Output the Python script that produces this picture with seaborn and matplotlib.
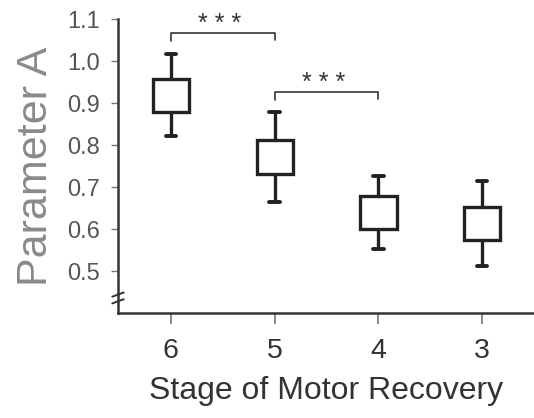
import pandas as pd
import matplotlib
matplotlib.use("Agg")
import matplotlib.pyplot as plt
import seaborn as sns

# values
stages = ["6", "5", "4", "3"]
whisker_low = [0.821, 0.664, 0.552, 0.512]
box_low = [0.879, 0.731, 0.600, 0.574]
box_high = [0.957, 0.812, 0.679, 0.652]
whisker_high = [1.017, 0.879, 0.726, 0.714]

# significance brackets: (left stage, right stage, height)
bracket_pairs = [("6", "5"), ("5", "4")]
bracket_heights = [1.067, 0.926]
bracket_labels = ["* * *", "* * *"]

# five points per stage -> quartiles land exactly on box edges
rows = []
for i, s in enumerate(stages):
    for v in [whisker_low[i], box_low[i], box_low[i], box_high[i], whisker_high[i]]:
        rows.append({"stage": s, "value": v})
data = pd.DataFrame(rows)

sns.set_style("ticks")
plt.rcParams["font.family"] = ["Liberation Sans", "DejaVu Sans"]

fig = plt.figure(figsize=(5.34, 4.18), dpi=100)
ax = fig.add_axes([0.221, 0.251, 0.779, 0.7035])

line_col = "#222222"
sns.boxplot(data=data, x="stage", y="value", order=stages, whis=(0, 100),
            width=0.35, color="white", linecolor=line_col, linewidth=2.4,
            showfliers=False, capwidths=0.1,
            medianprops={"visible": False},
            capprops={"linewidth": 2.8},
            whiskerprops={"linewidth": 2.4}, ax=ax)

ax.set_ylim(0.4, 1.1)
ax.set_xlim(-0.51, 3.5)
ax.set_yticks([0.5, 0.6, 0.7, 0.8, 0.9, 1.0, 1.1])
ax.set_yticklabels(["0.5", "0.6", "0.7", "0.8", "0.9", "1.0", "1.1"])

for side in ["top", "right"]:
    ax.spines[side].set_visible(False)
ax.spines["left"].set_linewidth(1.8)
ax.spines["left"].set_color("#333333")
ax.spines["bottom"].set_linewidth(1.8)
ax.spines["bottom"].set_color("#333333")

ax.tick_params(axis="y", direction="out", length=5, width=1.0, color="#777777",
               labelsize=17, labelcolor="#555555", pad=8)
ax.tick_params(axis="x", direction="out", length=8, width=1.2, color="#777777",
               labelsize=20.5, labelcolor="#333333", pad=10)

ax.set_xlabel("Stage of Motor Recovery", fontsize=23, color="#333333")
ax.xaxis.set_label_coords(0.5, -0.215)
ax.set_ylabel("Parameter A", fontsize=31, color="#8a8a8a")
ax.yaxis.set_label_coords(-0.15, 0.5)

# significance brackets
for (a, b), h, lab in zip(bracket_pairs, bracket_heights, bracket_labels):
    x1, x2 = stages.index(a), stages.index(b)
    ax.plot([x1, x1, x2, x2], [h - 0.019, h, h, h - 0.017],
            color="#333333", linewidth=1.2, clip_on=False)
    ax.text((x1 + x2) / 2 - 0.03, h + 0.005, lab, ha="center", va="baseline",
            fontsize=18, color="#333333", clip_on=False)

# axis break marks on the y axis
for dy in [0.0, 0.016]:
    ax.plot([-0.565, -0.455], [0.423 + dy, 0.433 + dy], color="#333333",
            linewidth=1.4, clip_on=False)

fig.savefig("out.png", dpi=100)
